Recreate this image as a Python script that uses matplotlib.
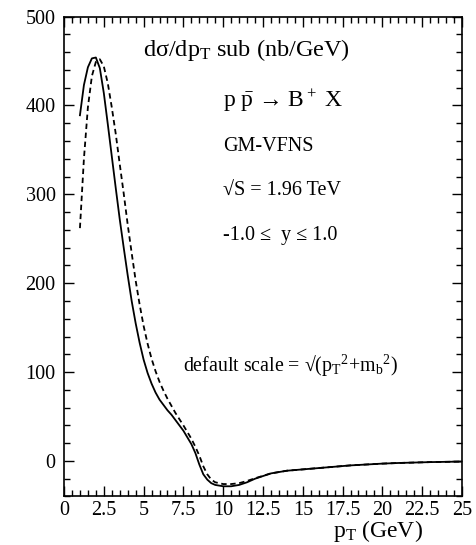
import matplotlib
matplotlib.use("Agg")
import matplotlib.pyplot as plt
from matplotlib.ticker import MultipleLocator

plt.rcParams['font.family'] = ['Liberation Serif', 'DejaVu Serif']
plt.rcParams['mathtext.fontset'] = 'custom'
plt.rcParams['mathtext.rm'] = 'Liberation Serif'
plt.rcParams['mathtext.it'] = 'Liberation Serif:italic'

# pT grid (GeV)
pt = [1.0, 1.25, 1.5, 1.75, 2.0, 2.25, 2.5, 2.75, 3.0, 3.25, 3.5, 3.75, 4.0,
      4.25, 4.5, 4.75, 5.0, 5.25, 5.5, 5.75, 6.0, 6.25, 6.5, 6.75, 7.0, 7.5,
      8.0, 8.25, 8.5, 8.75, 9.0, 9.25, 9.5, 10.0, 10.5, 11.0, 11.5, 12.0,
      13.0, 14.0, 15.0, 16.0, 17.0, 18.0, 19.0, 20.0, 21.0, 22.0, 23.0,
      24.0, 25.0]

# solid curve
sig_solid = [389, 423, 443, 453, 454, 442, 414, 379, 343, 307, 272, 240, 209,
             180, 155, 133, 114, 99, 87, 77, 69, 63, 57, 52, 46, 34,
             19, 9, -4, -15, -21, -25, -27, -28.5, -28.5, -27, -24, -20,
             -14, -11, -9.5, -8, -6.5, -5, -4, -3, -2.3, -1.8, -1.3,
             -1.0, -0.7]

# dashed curve
sig_dashed = [262, 340, 398, 433, 449, 452, 444, 425, 398, 368, 334, 301, 266,
              234, 203, 176, 152, 132, 115, 101, 89, 79, 70, 62, 54, 40,
              25, 16, 6, -6, -15, -21, -24, -26, -26, -25, -22.5, -19.5,
              -14, -11, -9.5, -8, -6.5, -5, -4, -3, -2.3, -1.8, -1.3,
              -1.0, -0.7]

fig = plt.figure(figsize=(4.76, 5.45), dpi=100)
ax = fig.add_axes([0.1345, 0.089, 0.836, 0.8805])

ax.plot(pt, sig_solid, color='black', lw=1.3)
ax.plot(pt, sig_dashed, color='black', lw=1.3, ls=(0, (3, 2)))

ax.set_xlim(0, 25)
ax.set_ylim(-40, 500)
ax.xaxis.set_minor_locator(MultipleLocator(0.5))
ax.yaxis.set_major_locator(MultipleLocator(100))
ax.yaxis.set_minor_locator(MultipleLocator(20))
ax.set_xticks([0, 2.5, 5, 7.5, 10, 12.5, 15, 17.5, 20, 22.5, 25])
ax.set_xticklabels(['0', '2.5', '5', '7.5', '10', '12.5', '15', '17.5',
                    '20', '22.5', '25'])
ax.tick_params(which='both', direction='in', top=True, right=True,
               labelsize=14.5, width=1.0)
ax.tick_params(which='major', length=7)
ax.tick_params(axis='x', which='major', pad=3)
ax.tick_params(axis='y', which='major', pad=6)
ax.tick_params(which='minor', length=4)
for s in ax.spines.values():
    s.set_linewidth(1.2)

ax.text(4.96, 456, r'dσ/dp$_\mathrm{T}$ sub (nb/GeV)', fontsize=17.5)
ax.text(10, 398, r'p $\bar{\mathrm{p}}$ → B$^+$ X', fontsize=17)
ax.text(10, 349, 'GM-VFNS', fontsize=14.5)
ax.text(10, 298.6, '√S = 1.96 TeV', fontsize=14.5)
ax.text(10, 249, '-1.0 ≤  y ≤ 1.0', fontsize=14.5)
ax.text(7.47, 100, r'default scale = √(p$_\mathrm{T}$$^2$+m$_\mathrm{b}$$^2$)',
        fontsize=14.3)

ax.text(0.902, -0.0845, r'p$_\mathrm{T}$ (GeV)', transform=ax.transAxes,
        ha='right', va='baseline', fontsize=17)

fig.savefig('out.png', dpi=100)
